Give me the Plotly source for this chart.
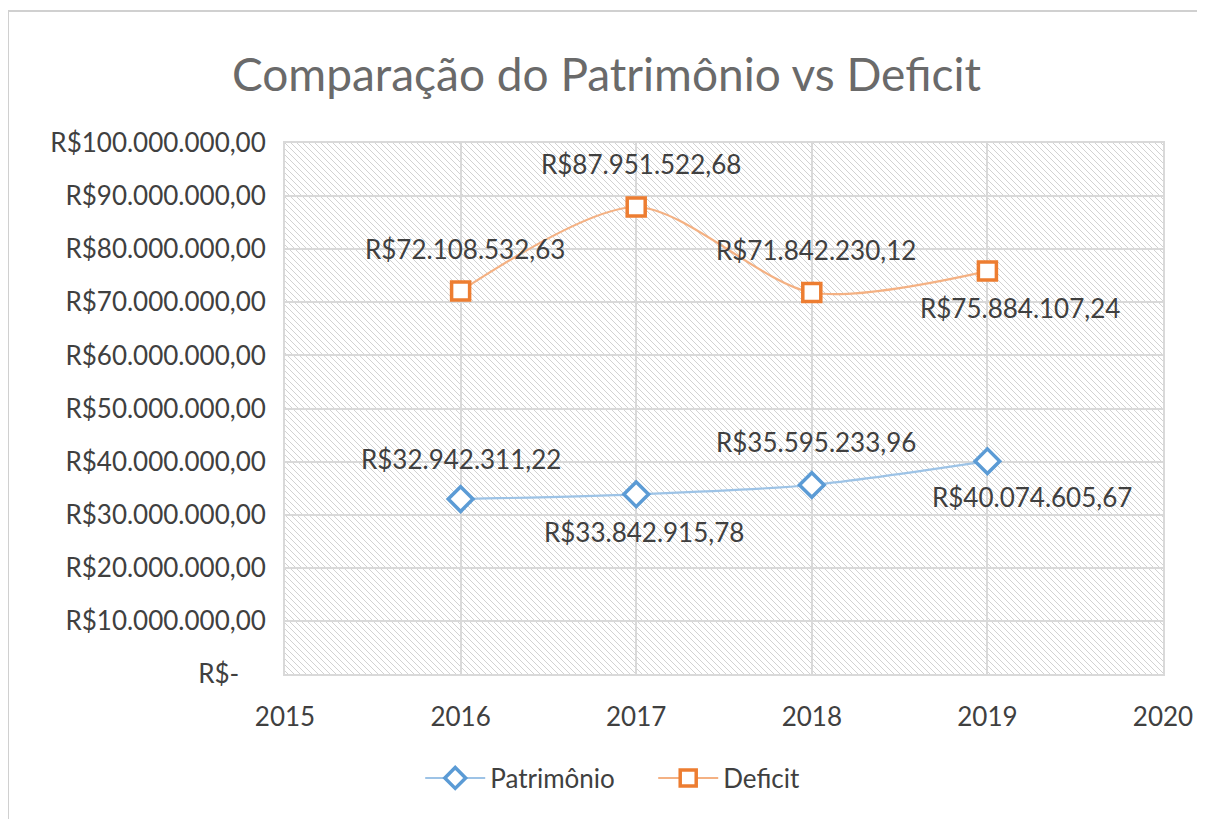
import base64
import plotly.graph_objects as go

years = [2016, 2017, 2018, 2019]
patrimonio = [32942311.22, 33842915.78, 35595233.96, 40074605.67]
deficit = [72108532.63, 87951522.68, 71842230.12, 75884107.24]
y_ticks = [0, 10e6, 20e6, 30e6, 40e6, 50e6, 60e6, 70e6, 80e6, 90e6, 100e6]
x_ticks = [2015, 2016, 2017, 2018, 2019, 2020]

# label placement (pixels)
patrimonio_yshift = [40, -38, 43, -36]
patrimonio_xshift = [0, 8, 4, 45]
deficit_yshift = [42, 43, 43, -37]
deficit_xshift = [4, 5, 4, 33]


def brl(v):
    if v == 0:
        return "R$-" + "\u00a0" * 4
    s = f"{v:,.2f}"
    s = s.replace(",", "X").replace(".", ",").replace("X", ".")
    return "R$" + s


FONT = "Lato, 'Open Sans', sans-serif"
TXT = "#404040"
FS = 26

# page has an ~8px body margin; figure is sized to compensate
W, H = 1197, 811
ML, MR, MT, MB = 277, 42, 135, 145
PW, PH = W - ML - MR, H - MT - MB

# diagonal hatch used as plot-area background (below gridlines)
svg = (
    f'<svg xmlns="http://www.w3.org/2000/svg" width="{PW}" height="{PH}">'
    '<defs><pattern id="h" width="6" height="6" patternUnits="userSpaceOnUse">'
    '<path d="M-1,-1 L7,7 M-1,5 L1,7 M5,-1 L7,1" stroke="#d2d2d2" stroke-width="1"/>'
    '</pattern></defs>'
    f'<rect width="{PW}" height="{PH}" fill="white"/>'
    f'<rect width="{PW}" height="{PH}" fill="url(#h)"/></svg>'
)
hatch_src = "data:image/svg+xml;base64," + base64.b64encode(svg.encode()).decode()

fig = go.Figure()

fig.add_trace(go.Scatter(
    x=years, y=patrimonio, name="Patrimônio",
    mode="lines+markers",
    line=dict(color="#9dc3e6", width=2.2, shape="spline", smoothing=0.8),
    marker=dict(symbol="diamond", size=19, color="white",
                line=dict(color="#5b9bd5", width=3.5)),
))
fig.add_trace(go.Scatter(
    x=years, y=deficit, name="Deficit",
    mode="lines+markers",
    line=dict(color="#f4b183", width=2.2, shape="spline", smoothing=0.8),
    marker=dict(symbol="square", size=18, color="white",
                line=dict(color="#ed7d31", width=3.5)),
))

annotations = []
for series, ys, xs in ((patrimonio, patrimonio_yshift, patrimonio_xshift),
                       (deficit, deficit_yshift, deficit_xshift)):
    for x, v, dy, dx in zip(years, series, ys, xs):
        annotations.append(dict(
            x=x, y=v, xref="x", yref="y", text=brl(v), showarrow=False,
            xanchor="center", yanchor="middle", xshift=dx, yshift=dy,
            font=dict(family=FONT, size=FS, color=TXT)))

fig.update_layout(
    width=W, height=H,
    paper_bgcolor="white", plot_bgcolor="white",
    margin=dict(l=ML, r=MR, t=MT, b=MB),
    title=dict(text="Comparação do Patrimônio vs Deficit",
               font=dict(family=FONT, size=46, color="#6a6a6a"),
               x=0.5, xanchor="center", y=1 - 67 / H, yanchor="middle"),
    xaxis=dict(range=[2015, 2020], tickvals=x_ticks, ticktext=[str(t) for t in x_ticks],
               showgrid=True, gridcolor="#d9d9d9", gridwidth=2,
               showline=True, linecolor="#d9d9d9", linewidth=2, mirror=True,
               zeroline=False, ticks="outside", ticklen=19, tickcolor="rgba(0,0,0,0)",
               tickfont=dict(family=FONT, size=FS, color=TXT)),
    yaxis=dict(range=[0, 100e6], tickvals=y_ticks, ticktext=[brl(v) for v in y_ticks],
               showgrid=True, gridcolor="#d9d9d9", gridwidth=2,
               showline=True, linecolor="#d9d9d9", linewidth=2, mirror=True,
               zeroline=False, ticks="outside", ticklen=12, tickcolor="rgba(0,0,0,0)",
               tickfont=dict(family=FONT, size=FS, color=TXT)),
    legend=dict(orientation="h", x=0.154, xanchor="left", y=-0.196, yanchor="middle",
                font=dict(family=FONT, size=FS, color=TXT), itemwidth=60,
                entrywidth=158, entrywidthmode="pixels"),
    annotations=annotations,
    images=[dict(source=hatch_src, xref="paper", yref="paper", x=0, y=1,
                 sizex=1, sizey=1, sizing="stretch", xanchor="left", yanchor="top",
                 layer="below")],
    shapes=[dict(type="rect", xref="paper", yref="paper",
                 x0=-0.3155, x1=1.2, y0=-0.4, y1=1.2486,
                 line=dict(color="#d0d0d0", width=2), layer="below")],
    showlegend=True,
)

fig.write_html("out.html")
